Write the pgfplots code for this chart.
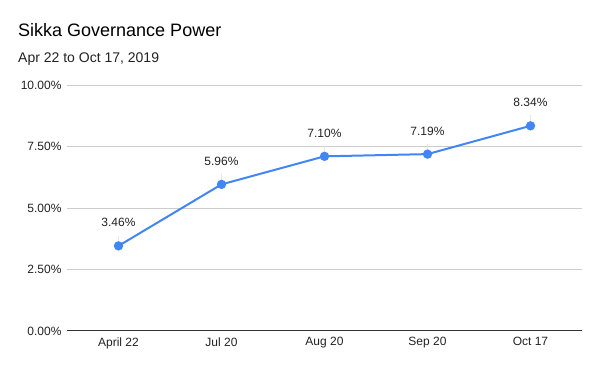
\documentclass[border=0pt]{standalone}
\usepackage{fontspec}
\setmainfont{Liberation Sans}
\usepackage{pgfplots}
\pgfplotsset{compat=1.18}
\definecolor{gblue}{HTML}{4285F4}
\definecolor{gridc}{HTML}{CCCCCC}
\definecolor{connc}{HTML}{E6E6E6}
\definecolor{txt}{HTML}{222222}
\begin{document}
\begin{tikzpicture}
\path[use as bounding box] (0,0) rectangle (600pt,371pt);
\node[anchor=base west, font=\fontsize{18}{20}\selectfont, text=black, inner sep=0pt] at (18pt,334pt) {Sikka Governance Power};
\node[anchor=base west, font=\fontsize{14}{16}\selectfont, text=txt, inner sep=0pt] at (18pt,308pt) {Apr 22 to Oct 17, 2019};
\begin{axis}[
  at={(67pt,40pt)}, anchor=south west,
  scale only axis, width=515pt, height=246pt,
  xmin=-0.5, xmax=4.5, ymin=0, ymax=10,
  xtick={0,1,2,3,4},
  xticklabels={April 22, Jul 20, Aug 20, Sep 20, Oct 17},
  ytick={2.5,5,7.5,10},
  yticklabels={2.50\%,5.00\%,7.50\%,10.00\%},
  extra y ticks={0},
  extra y tick labels={0.00\%},
  extra y tick style={grid style={draw=black!80, line width=1pt}},
  ymajorgrids,
  grid style={draw=gridc, line width=0.8pt},
  axis line style={draw=none},
  major tick length=0pt,
  tick label style={font=\fontsize{12}{14}\selectfont, text=txt},
  yticklabel style={xshift=-2pt},
  xticklabel style={yshift=-3pt},
  /pgf/number format/assume math mode=true,
  clip=false,
]
\addplot[draw=none, no marks, forget plot,
  error bars/.cd, y dir=plus, y fixed=0.42,
  error bar style={draw=connc, line width=0.8pt}, error mark=none]
  coordinates {(0,3.46) (1,5.96) (2,7.10) (3,7.19) (4,8.34)};
\addplot[gblue, line width=2pt, mark=*, mark size=3.6pt,
  mark options={solid, fill=gblue, draw=gblue},
  nodes near coords={\pgfmathprintnumber[fixed, fixed zerofill, precision=2]{\pgfplotspointmeta}\%},
  every node near coord/.append style={anchor=base, yshift=19pt, font=\fontsize{12}{14}\selectfont, text=txt}]
  coordinates {(0,3.46) (1,5.96) (2,7.10) (3,7.19) (4,8.34)};
\end{axis}
\end{tikzpicture}
\end{document}
